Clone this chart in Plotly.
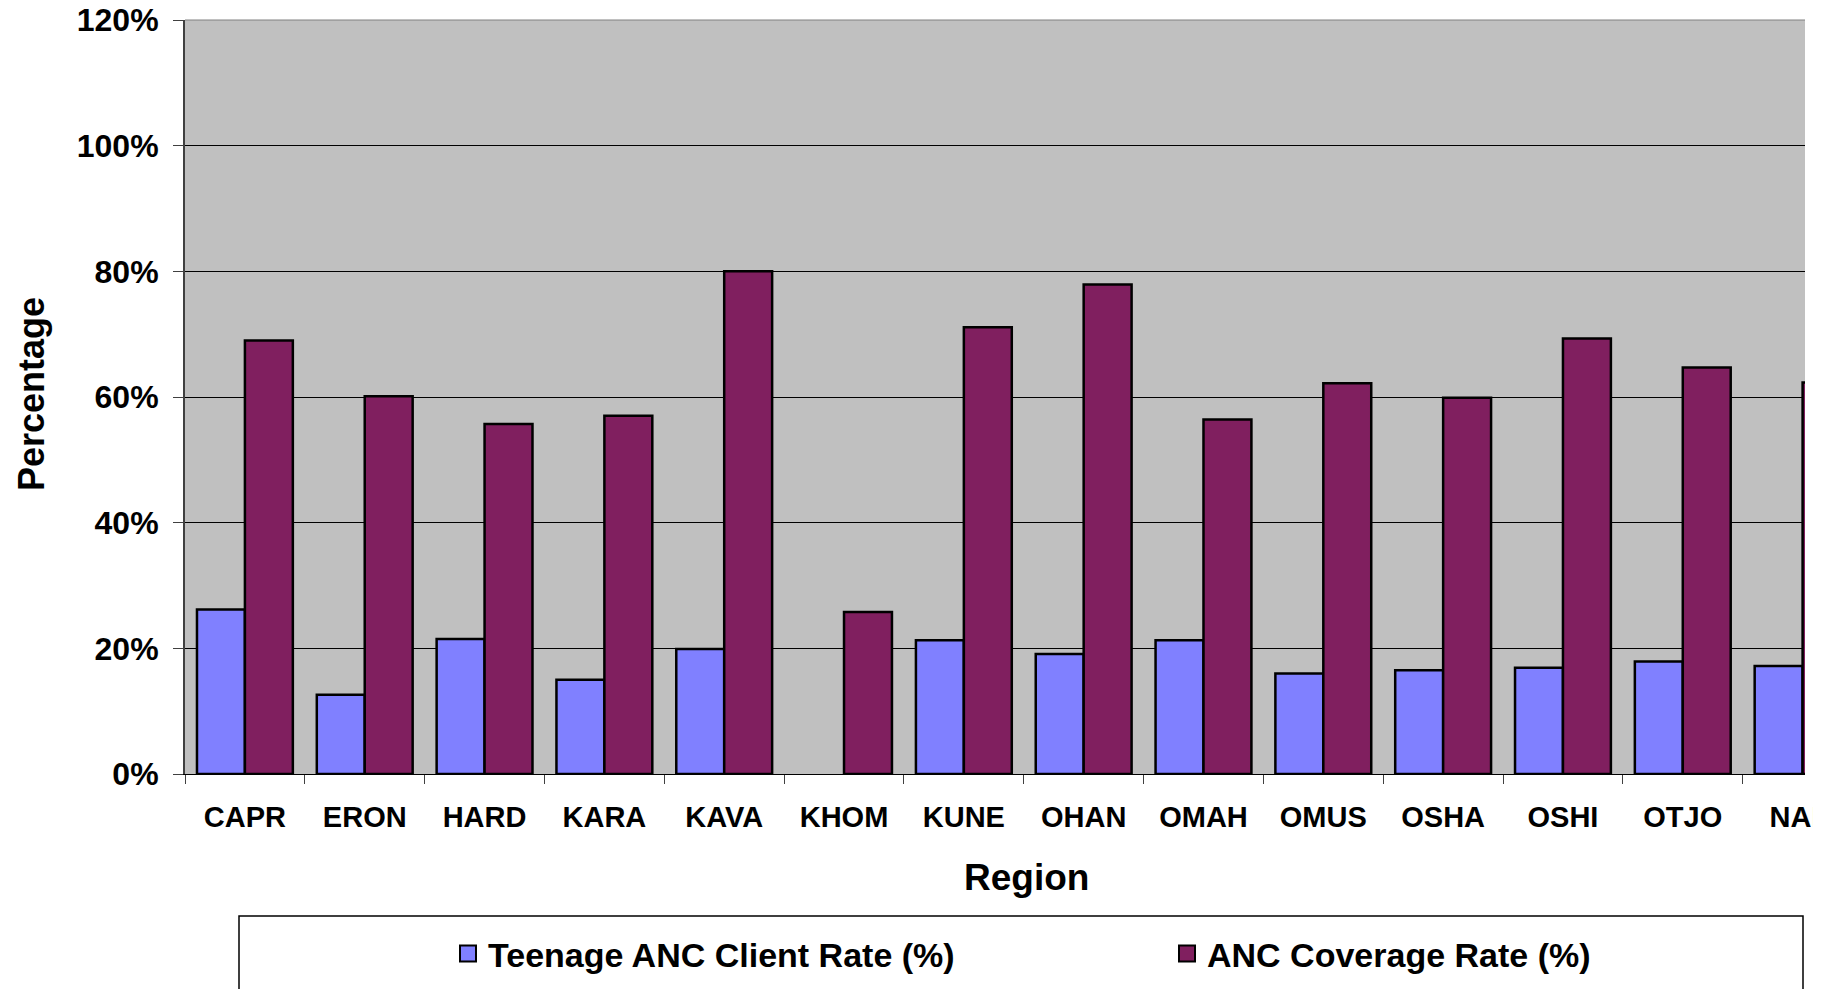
import plotly.graph_objects as go

# ---- data ----
regions = ["CAPR", "ERON", "HARD", "KARA", "KAVA", "KHOM", "KUNE",
           "OHAN", "OMAH", "OMUS", "OSHA", "OSHI", "OTJO", "NAM"]
teen_rate = [26.2, 12.6, 21.5, 15.0, 19.9, None, 21.3,
             19.1, 21.3, 16.0, 16.5, 16.9, 17.9, 17.2]
anc_rate = [69.0, 60.1, 55.7, 57.0, 80.0, 25.8, 71.1,
            77.9, 56.4, 62.2, 59.9, 69.3, 64.7, 62.3]
y_ticks = [0, 20, 40, 60, 80, 100, 120]
y_tick_labels = ["0%", "20%", "40%", "60%", "80%", "100%", "120%"]
series_names = ["Teenage ANC Client Rate (%)", "ANC Coverage Rate (%)"]
series_colors = ["#8080FF", "#801F5F"]

FONT = "Liberation Sans, Arial, sans-serif"

# page body adds an 8px offset; figure is sized to fit the window
OFF = 8
W, H = 1829 - OFF, 989 - OFF
L, T = 185 - OFF, 20 - OFF
R = W - (1805 - OFF)
B = H - (774 - OFF)
PW, PH = W - L - R, H - T - B


def px_x(px):
    return (px - OFF - L) / PW


def px_y(py):
    return (H - B - (py - OFF)) / PH


fig = go.Figure()
legend_ids = ["legend", "legend2"]
for name, vals, col, lg in zip(series_names, [teen_rate, anc_rate], series_colors, legend_ids):
    fig.add_trace(go.Bar(
        x=regions, y=vals, name=name, legendgroup=name, showlegend=False,
        marker=dict(color=col, line=dict(color="black", width=2.5)),
    ))
    # legend entry with a larger square key, as in the reference
    fig.add_trace(go.Scatter(
        x=[None], y=[None], mode="markers", name=name, legendgroup=name,
        legend=lg, showlegend=True, hoverinfo="skip",
        marker=dict(symbol="square", size=16, color=col,
                    line=dict(color="black", width=2)),
    ))

legend_common = dict(
    orientation="h", xanchor="left", yanchor="top",
    font=dict(family=FONT, size=34, color="black", weight="bold"),
    bgcolor="rgba(0,0,0,0)", borderwidth=0,
    itemclick=False, itemdoubleclick=False,
)

fig.update_layout(
    width=W, height=H,
    margin=dict(l=L, r=R, t=T, b=B, pad=0, autoexpand=False),
    paper_bgcolor="white",
    plot_bgcolor="#C0C0C0",
    barmode="group",
    bargap=0.2,
    bargroupgap=0,
    font=dict(family=FONT, color="black", weight="bold"),
    showlegend=True,
    legend=dict(x=px_x(448), y=px_y(925), **legend_common),
    legend2=dict(x=px_x(1167), y=px_y(925), **legend_common),
    xaxis=dict(
        type="category",
        categoryorder="array", categoryarray=regions,
        range=[-0.5, 13.02],
        showgrid=False,
        showline=True, linecolor="black", linewidth=1,
        ticks="outside", tickson="boundaries", ticklen=9,
        tickcolor="#404040", tickwidth=1,
        tickfont=dict(family=FONT, size=29, color="black", weight="bold"),
        ticklabelstandoff=17,
        ticklabeloverflow="allow",
        automargin=False,
        fixedrange=True,
    ),
    yaxis=dict(
        range=[0, 120],
        tickmode="array", tickvals=y_ticks, ticktext=y_tick_labels,
        showgrid=True, gridcolor="black", gridwidth=1,
        zeroline=False,
        showline=True, linecolor="#404040", linewidth=2,
        ticks="outside", ticklen=10, tickcolor="#404040", tickwidth=1,
        tickfont=dict(family=FONT, size=32, color="black", weight="bold"),
        ticklabelstandoff=8,
        ticklabeloverflow="allow",
        automargin=False,
        fixedrange=True,
    ),
    annotations=[
        dict(text="Percentage", xref="paper", yref="paper",
             x=px_x(31), y=px_y(394), textangle=-90,
             showarrow=False, xanchor="center", yanchor="middle",
             font=dict(family=FONT, size=36, color="black", weight="bold")),
        dict(text="Region", xref="paper", yref="paper",
             x=px_x(1026), y=px_y(877),
             showarrow=False, xanchor="center", yanchor="middle",
             font=dict(family=FONT, size=37, color="black", weight="bold")),
    ],
    shapes=[
        # top edge of plot area
        dict(type="line", xref="paper", yref="paper", x0=0, x1=1, y0=1, y1=1,
             line=dict(color="#808080", width=1), layer="above"),
        # legend frame
        dict(type="rect", xref="paper", yref="paper",
             x0=px_x(239), x1=px_x(1803), y0=px_y(916), y1=px_y(1010),
             line=dict(color="black", width=1.5), fillcolor="rgba(0,0,0,0)",
             layer="above"),
        # crop of the cut-off last tick label
        dict(type="rect", xref="paper", yref="paper",
             x0=px_x(1813), x1=px_x(1850), y0=px_y(786), y1=px_y(850),
             line=dict(width=0), fillcolor="white", layer="above"),
    ],
)

fig.write_html("out.html")
